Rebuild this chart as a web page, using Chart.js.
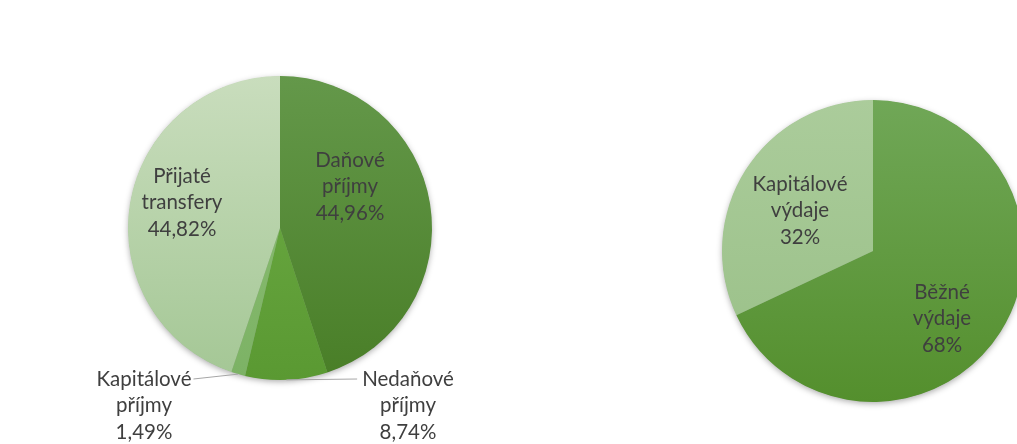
<!DOCTYPE html>
<html lang="cs">
<head>
<meta charset="utf-8">
<title>Příjmy a výdaje</title>
<script src="https://cdn.jsdelivr.net/npm/chart.js@4/dist/chart.umd.min.js"></script>
<style>
    html, body { margin: 0; padding: 0; background: #fff; overflow: hidden; }
    #page { position: relative; width: 1017px; height: 444px; overflow: hidden; }
    canvas { position: absolute; left: 0; top: 0; }
</style>
</head>
<body>
<div id="page">
    <canvas id="income-chart" width="1100" height="444"></canvas>
    <canvas id="spending-chart" width="1100" height="444"></canvas>
</div>
<script>
// Příjmy (%)
const incomeLabels = [["Daňové", "příjmy"], ["Nedaňové", "příjmy"], ["Kapitálové", "příjmy"], ["Přijaté", "transfery"]];
const incomeValues = [44.96, 8.74, 1.49, 44.82];

// Výdaje (%)
const spendingLabels = [["Běžné", "výdaje"], ["Kapitálové", "výdaje"]];
const spendingValues = [68, 32];

// slice colours, top and bottom of the vertical shading
const incomeTop = ["#64984a", "#70ae48", "#8fc174", "#c9ddbd"];
const incomeBottom = ["#497e27", "#5a9932", "#7cb265", "#a4c795"];
const spendingTop = ["#70a757", "#abcc9b"];
const spendingBottom = ["#548f2d", "#98bf86"];

const FONT = "20.5px Lato, 'Open Sans', sans-serif";
const TEXT_COLOR = "#3f3f3f";
const LINE_STEP = 26.5;

function formatPercent(v) {
    return String(v).replace(".", ",") + "%";
}

function shadedFill(tops, bottoms) {
    return function (ctx) {
        const area = ctx.chart.chartArea;
        const i = ctx.dataIndex;
        if (!area) return tops[i];
        const g = ctx.chart.ctx.createLinearGradient(0, area.top, 0, area.bottom);
        g.addColorStop(0, tops[i]);
        g.addColorStop(1, bottoms[i]);
        return g;
    };
}

// soft drop shadow under the whole pie
const pieShadow = {
    id: "pieShadow",
    beforeDatasetsDraw(chart) {
        const arc = chart.getDatasetMeta(0).data[0];
        if (!arc) return;
        const ctx = chart.ctx;
        ctx.save();
        ctx.shadowColor = "rgba(0, 0, 0, 0.35)";
        ctx.shadowBlur = 6;
        ctx.shadowOffsetY = 2;
        ctx.fillStyle = "#7a9a6a";
        ctx.beginPath();
        ctx.arc(arc.x, arc.y, arc.outerRadius - 0.5, 0, Math.PI * 2);
        ctx.fill();
        ctx.restore();
    }
};

// data labels: name lines plus the percentage, optional leader line
const sliceLabels = {
    id: "sliceLabels",
    afterDatasetsDraw(chart, args, opts) {
        const ctx = chart.ctx;
        const meta = chart.getDatasetMeta(0);
        const names = chart.data.labels;
        const values = chart.data.datasets[0].data;
        ctx.save();
        ctx.font = FONT;
        ctx.fillStyle = TEXT_COLOR;
        ctx.textAlign = "center";
        ctx.textBaseline = "middle";
        meta.data.forEach((arc, i) => {
            const pos = opts.positions[i];
            const x = arc.x + pos[0];
            const y = arc.y + pos[1];
            const lines = names[i].concat(formatPercent(values[i]));
            lines.forEach((line, k) => ctx.fillText(line, x, y + k * LINE_STEP));

            if (pos[2]) {
                // leader from the middle of the slice's rim to the label
                const mid = (arc.startAngle + arc.endAngle) / 2;
                const ex = arc.x + Math.cos(mid) * arc.outerRadius;
                const ey = arc.y + Math.sin(mid) * arc.outerRadius;
                const w = ctx.measureText(lines[0]).width;
                const lx = pos[2] > 0 ? x - w / 2 - 5 : x + w / 2 + 2;
                ctx.strokeStyle = "#a6a6a6";
                ctx.lineWidth = 1;
                ctx.beginPath();
                ctx.moveTo(ex, ey);
                ctx.lineTo(lx, y);
                ctx.stroke();
            }
        });
        ctx.restore();
    }
};

function makePie(canvasId, labels, values, tops, bottoms, padding, positions) {
    return new Chart(document.getElementById(canvasId), {
        type: "pie",
        data: {
            labels: labels,
            datasets: [{
                data: values,
                backgroundColor: shadedFill(tops, bottoms),
                borderWidth: 0,
                offset: 0,
                hoverOffset: 0
            }]
        },
        options: {
            responsive: false,
            animation: false,
            events: [],
            layout: { padding: padding },
            plugins: {
                legend: { display: false },
                tooltip: { enabled: false },
                sliceLabels: { positions: positions }
            }
        },
        plugins: [pieShadow, sliceLabels]
    });
}

// label offsets from the pie centre: [dx, dy of first line, leader side]
makePie("income-chart", incomeLabels, incomeValues, incomeTop, incomeBottom,
    { left: 128, top: 76, right: 668, bottom: 64 },
    [[70, -68, 0], [128, 151, 1], [-136, 151, -1], [-98, -52, 0]]);

makePie("spending-chart", spendingLabels, spendingValues, spendingTop, spendingBottom,
    { left: 722, top: 100, right: 76, bottom: 42 },
    [[69, 41, 0], [-73, -67, 0]]);
</script>
</body>
</html>
